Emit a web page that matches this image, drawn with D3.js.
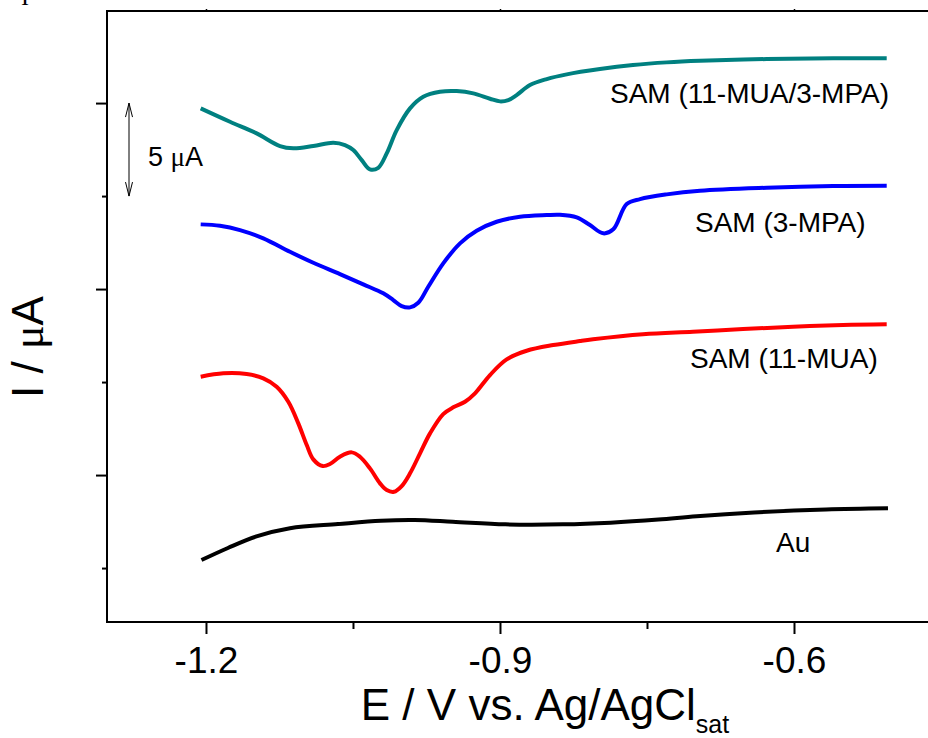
<!DOCTYPE html>
<html>
<head>
<meta charset="utf-8">
<script src="https://cdn.jsdelivr.net/npm/d3@7"></script>
<style>
  body { margin: 0; background: #fff; }
  svg { display: block; }
</style>
</head>
<body>
<script>
// potential (V vs Ag/AgCl) and current (uA, stacked with offsets)
var teal_E = [-1.2054, -1.1755, -1.1483, -1.1245, -1.1109, -1.0905, -1.0701, -1.0582, -1.0497, -1.0411, -1.0327, -1.0242, -1.0156, -1.0054, -0.9918, -0.9783, -0.9612, -0.9442, -0.9272, -0.9102, -0.9000, -0.8915, -0.8830, -0.8694, -0.8523, -0.8319, -0.7980, -0.7643, -0.7299, -0.6959, -0.6279, -0.5602, -0.5054];
var teal_I = [29.715, 28.995, 28.371, 27.688, 27.565, 27.688, 27.866, 27.742, 27.473, 26.935, 26.435, 26.522, 27.296, 28.548, 29.715, 30.339, 30.608, 30.645, 30.522, 30.231, 30.091, 30.161, 30.430, 30.968, 31.290, 31.543, 31.828, 32.043, 32.188, 32.274, 32.366, 32.403, 32.403];

var blue_E = [-1.2054, -1.1857, -1.1653, -1.1415, -1.1143, -1.0905, -1.0633, -1.0395, -1.0191, -1.0089, -1.0003, -0.9918, -0.9834, -0.9732, -0.9579, -0.9408, -0.9238, -0.9034, -0.8796, -0.8523, -0.8388, -0.8217, -0.8082, -0.7946, -0.7844, -0.7707, -0.7571, -0.7299, -0.6959, -0.6279, -0.5602, -0.5054];
var blue_I = [23.478, 23.403, 23.172, 22.726, 22.005, 21.414, 20.806, 20.253, 19.769, 19.409, 19.086, 19.016, 19.263, 20.124, 21.382, 22.457, 23.134, 23.618, 23.887, 23.978, 23.995, 23.855, 23.441, 22.995, 23.210, 24.570, 24.839, 25.091, 25.285, 25.446, 25.538, 25.554];

var red_E = [-1.2054, -1.1823, -1.1585, -1.1415, -1.1279, -1.1160, -1.1058, -1.0972, -1.0905, -1.0809, -1.0735, -1.0633, -1.0513, -1.0429, -1.0327, -1.0224, -1.0156, -1.0082, -1.0003, -0.9918, -0.9816, -0.9714, -0.9579, -0.9477, -0.9357, -0.9255, -0.9102, -0.8932, -0.8728, -0.8456, -0.8184, -0.8051, -0.7541, -0.7031, -0.6520, -0.6010, -0.5500, -0.5054];
var red_I = [15.285, 15.468, 15.430, 15.199, 14.747, 13.941, 12.780, 11.613, 10.844, 10.484, 10.591, 10.984, 11.220, 10.984, 10.360, 9.554, 9.194, 9.102, 9.409, 10.091, 11.167, 12.242, 13.280, 13.640, 13.941, 14.392, 15.376, 16.220, 16.683, 16.989, 17.204, 17.296, 17.565, 17.704, 17.849, 17.973, 18.065, 18.102];

var black_E = [-1.2046, -1.1776, -1.1485, -1.1143, -1.0653, -1.0214, -0.9873, -0.9483, -0.8945, -0.8359, -0.7871, -0.7383, -0.6993, -0.6408, -0.5673, -0.5041];
var black_I = [5.430, 6.080, 6.700, 7.140, 7.366, 7.543, 7.581, 7.489, 7.349, 7.349, 7.440, 7.610, 7.790, 7.990, 8.150, 8.210];

var seriesNames = ["SAM (11-MUA/3-MPA)", "SAM (3-MPA)", "SAM (11-MUA)", "Au"];
var seriesColors = ["#008080", "#0000ff", "#ff0000", "#000000"];

var xMajor = [-1.2, -0.9, -0.6];
var xMinor = [-1.05, -0.75];
var yMajor = [10, 20, 30];
var yMinor = [5, 15, 25];

var width = 928;
var height = 738;

var svgContainer = d3.select("body").append("svg")
  .attr("width", width)
  .attr("height", height);

var x = d3.scaleLinear().domain([-1.301, -0.45]).range([107, 941]);
var y = d3.scaleLinear().domain([2.1, 34.95]).range([622, 11]);

var allSeries = [
  {E: teal_E, I: teal_I},
  {E: blue_E, I: blue_I},
  {E: red_E, I: red_I},
  {E: black_E, I: black_I}
];

// stray glyph cut off at the top-left corner
svgContainer.append("text")
  .attr("x", 25).attr("y", 5)
  .attr("text-anchor", "middle")
  .style("font-family", "'Liberation Serif', serif")
  .style("font-size", "24px")
  .text("I");

// bottom axis
var xAxis = svgContainer.append("g")
  .attr("transform", "translate(0," + y.range()[0] + ")")
  .call(d3.axisBottom(x).tickValues(xMajor).tickSize(12).tickPadding(13)
    .tickFormat(function(d){ return d.toFixed(1); }));
xAxis.select(".domain").remove();
xAxis.selectAll("line").attr("stroke-width", 2);
xAxis.selectAll("text")
  .style("font-family", "Arial, 'Liberation Sans', sans-serif")
  .style("font-size", "37px");

svgContainer.append("g")
  .attr("transform", "translate(0," + y.range()[0] + ")")
  .call(d3.axisBottom(x).tickValues(xMinor).tickSize(7).tickFormat(""))
  .call(function(g){ g.select(".domain").remove(); g.selectAll("line").attr("stroke-width", 2); });

// top ticks
svgContainer.append("g")
  .attr("transform", "translate(0," + y.range()[1] + ")")
  .call(d3.axisTop(x).tickValues(xMajor).tickSize(2).tickFormat(""))
  .call(function(g){ g.select(".domain").remove(); g.selectAll("line").attr("stroke-width", 1.5); });

// left axis, no labels
svgContainer.append("g")
  .attr("transform", "translate(" + x.range()[0] + ",0)")
  .call(d3.axisLeft(y).tickValues(yMajor).tickSize(11).tickFormat(""))
  .call(function(g){ g.select(".domain").remove(); g.selectAll("line").attr("stroke-width", 2); });
svgContainer.append("g")
  .attr("transform", "translate(" + x.range()[0] + ",0)")
  .call(d3.axisLeft(y).tickValues(yMinor).tickSize(5).tickFormat(""))
  .call(function(g){ g.select(".domain").remove(); g.selectAll("line").attr("stroke-width", 2); });

// frame (right side is off the page)
svgContainer.append("path")
  .attr("d", "M" + x.range()[1] + "," + y.range()[1] +
    "H" + x.range()[0] + "V" + y.range()[0] + "H" + x.range()[1])
  .attr("fill", "none")
  .attr("stroke", "#000")
  .attr("stroke-width", 2);

// curves
var line = d3.line()
  .x(function(d){ return x(d[0]); })
  .y(function(d){ return y(d[1]); })
  .curve(d3.curveCatmullRom.alpha(0.5));

svgContainer.selectAll(".curve")
  .data(allSeries)
  .enter()
  .append("path")
  .attr("class", "curve")
  .attr("d", function(s){ return line(d3.zip(s.E, s.I)); })
  .attr("fill", "none")
  .attr("stroke", function(s, i){ return seriesColors[i]; })
  .attr("stroke-width", 4)
  .attr("stroke-linejoin", "round");

// curve labels
var labelPos = [[610, 103], [695, 232], [690, 368], [776, 552]];
svgContainer.selectAll(".lbl")
  .data(seriesNames)
  .enter()
  .append("text")
  .attr("class", "lbl")
  .attr("x", function(d, i){ return labelPos[i][0]; })
  .attr("y", function(d, i){ return labelPos[i][1]; })
  .style("font-family", "Arial, 'Liberation Sans', sans-serif")
  .style("font-size", "28px")
  .text(function(d){ return d; });

// 5 uA scale bar
var barX = 129;
var barTop = y(30);
var barBot = y(25);
svgContainer.append("path")
  .attr("d", "M" + barX + "," + barTop + "V" + barBot +
    "M" + (barX - 3.5) + "," + (barTop + 14) + "L" + barX + "," + barTop + "L" + (barX + 3.5) + "," + (barTop + 14) +
    "M" + (barX - 3.5) + "," + (barBot - 14) + "L" + barX + "," + barBot + "L" + (barX + 3.5) + "," + (barBot - 14))
  .attr("fill", "none")
  .attr("stroke", "#000")
  .attr("stroke-width", 1);

var scaleText = svgContainer.append("text")
  .attr("x", 148).attr("y", 166)
  .style("font-family", "Arial, 'Liberation Sans', sans-serif")
  .style("font-size", "27px");
scaleText.append("tspan").text("5 ");
scaleText.append("tspan").style("font-family", "'Liberation Serif', serif").text("μ");
scaleText.append("tspan").text("A");

// axis titles
var xTitle = svgContainer.append("text")
  .attr("x", 545).attr("y", 720)
  .attr("text-anchor", "middle")
  .style("font-family", "Arial, 'Liberation Sans', sans-serif")
  .style("font-size", "44px");
xTitle.append("tspan").text("E / V vs. Ag/AgCl");
xTitle.append("tspan").attr("dy", 13).style("font-size", "25px").text("sat");

var yTitle = svgContainer.append("text")
  .attr("transform", "translate(43,347) rotate(-90)")
  .attr("text-anchor", "middle")
  .style("font-family", "Arial, 'Liberation Sans', sans-serif")
  .style("font-size", "44px");
yTitle.append("tspan").text("I / ");
yTitle.append("tspan").style("font-family", "'Liberation Serif', serif").text("μ");
yTitle.append("tspan").text("A");
</script>
</body>
</html>
